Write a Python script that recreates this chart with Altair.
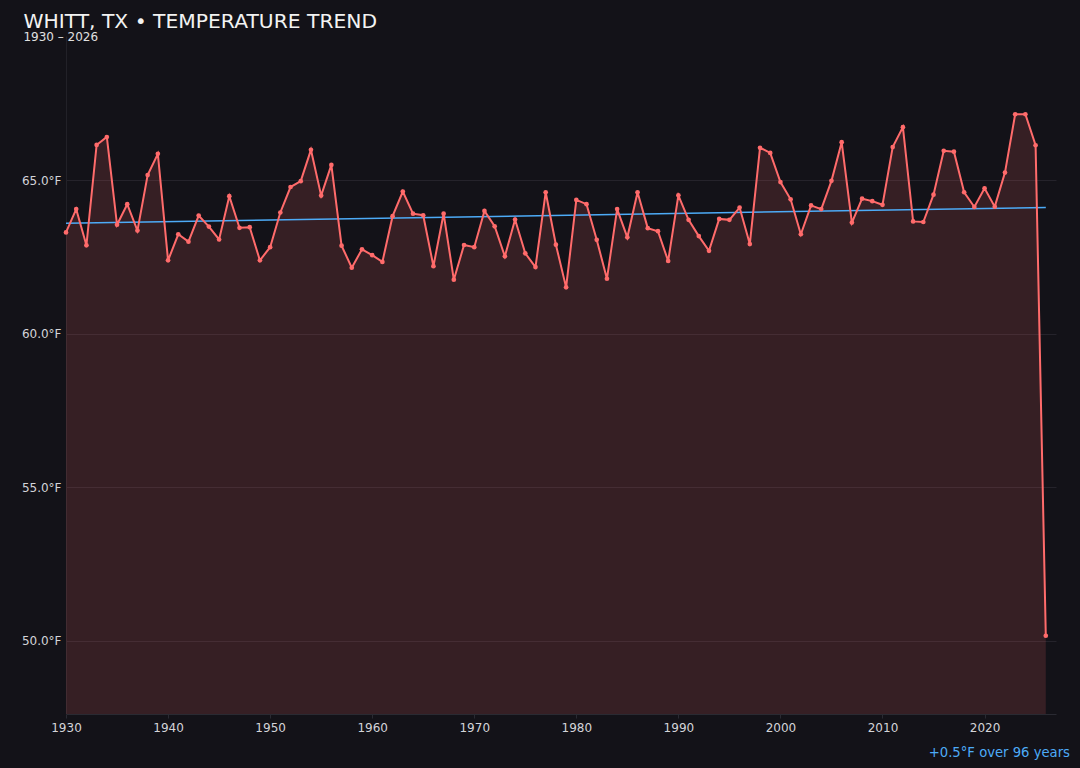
import altair as alt
import pandas as pd

years = list(range(1930, 2027))
temps = [
    63.30, 64.06, 62.88, 66.15, 66.41, 63.55, 64.22, 63.36, 65.17, 65.86,
    62.39, 63.24, 63.00, 63.85, 63.49, 63.07, 64.48, 63.45, 63.47, 62.39,
    62.82, 63.95, 64.78, 64.97, 65.99, 64.50, 65.50, 62.87, 62.15, 62.75,
    62.56, 62.34, 63.83, 64.63, 63.91, 63.86, 62.20, 63.91, 61.76, 62.89,
    62.82, 64.00, 63.50, 62.52, 63.72, 62.62, 62.17, 64.61, 62.90, 61.51,
    64.36, 64.22, 63.06, 61.79, 64.06, 63.14, 64.61, 63.44, 63.34, 62.37,
    64.51, 63.71, 63.18, 62.70, 63.74, 63.71, 64.11, 62.92, 66.06, 65.89,
    64.94, 64.38, 63.24, 64.18, 64.06, 64.98, 66.24, 63.62, 64.40, 64.32,
    64.20, 66.08, 66.73, 63.66, 63.64, 64.53, 65.96, 65.93, 64.61, 64.13,
    64.74, 64.14, 65.25, 67.15, 67.15, 66.14, 50.16,
]

title_text = "WHITT, TX • TEMPERATURE TREND"
subtitle_text = "1930 – 2026"
note_text = "+0.5°F over 96 years"

df = pd.DataFrame({"year": years, "temp": temps})

BG = "#131218"
LINE = "#ff6b6b"
TREND = "#4dabf7"
FONT = "DejaVu Sans"

x_enc = alt.X(
    "year:Q",
    scale=alt.Scale(domain=[1930, 2027], nice=False, zero=False),
    axis=alt.Axis(
        values=[1930, 1940, 1950, 1960, 1970, 1980, 1990, 2000, 2010, 2020],
        format="d", title=None, grid=False, labelFontSize=12,
        labelColor="#d4d4d8", labelFont=FONT, domainColor="#2a2a32",
        tickColor="#2a2a32", tickSize=4, labelPadding=4, labelFlush=False,
    ),
)
y_enc = alt.Y(
    "temp:Q",
    scale=alt.Scale(domain=[47.61, 69.70], nice=False, zero=False),
    axis=alt.Axis(
        values=[50, 55, 60, 65], labelExpr="format(datum.value, '.1f') + '°F'",
        title=None, grid=True, gridColor="#25232b", gridWidth=1,
        labelFontSize=12, labelColor="#d4d4d8", labelFont=FONT,
        domainColor="#222128", ticks=False, labelPadding=5,
    ),
)

base = alt.Chart(df)

area = base.mark_area(color=LINE, opacity=0.15, clip=True).encode(x=x_enc, y=y_enc)
line = base.mark_line(color=LINE, strokeWidth=2).encode(x="year:Q", y="temp:Q")
pts = base.mark_circle(color=LINE, size=22, opacity=1).encode(x="year:Q", y="temp:Q")
trend = (
    base.transform_regression("year", "temp", extent=[1930, 2026])
    .mark_line(color=TREND, strokeWidth=1.5)
    .encode(x="year:Q", y="temp:Q")
)
note = (
    alt.Chart(pd.DataFrame({"t": [note_text]}))
    .mark_text(align="right", baseline="alphabetic", fontSize=13.2, font=FONT, color=TREND)
    .encode(text="t:N", x=alt.value(1004), y=alt.value(721))
)

chart = (
    alt.layer(area, trend, line, pts, note)
    .properties(
        width=990,
        height=678,
        autosize=alt.AutoSizeParams(type="none"),
        padding={"left": 58, "top": 28, "right": 16, "bottom": 46},
        background=BG,
        title=alt.TitleParams(
            text=title_text,
            subtitle=subtitle_text,
            anchor="start",
            frame="bounds",
            fontSize=20.3,
            font=FONT,
            fontWeight="normal",
            color="#f2f2f2",
            subtitleFontSize=12,
            subtitleFont=FONT,
            subtitleColor="#e0e0e0",
            subtitlePadding=0,
            offset=0,
            dy=7,
            dx=2,
        ),
    )
    .configure_view(stroke=None)
)

chart.save(
    "out.html",
    embed_options={
        "renderer": "svg",
        "actions": False,
        "defaultStyle": "body{background:#131218;}",
    },
)
